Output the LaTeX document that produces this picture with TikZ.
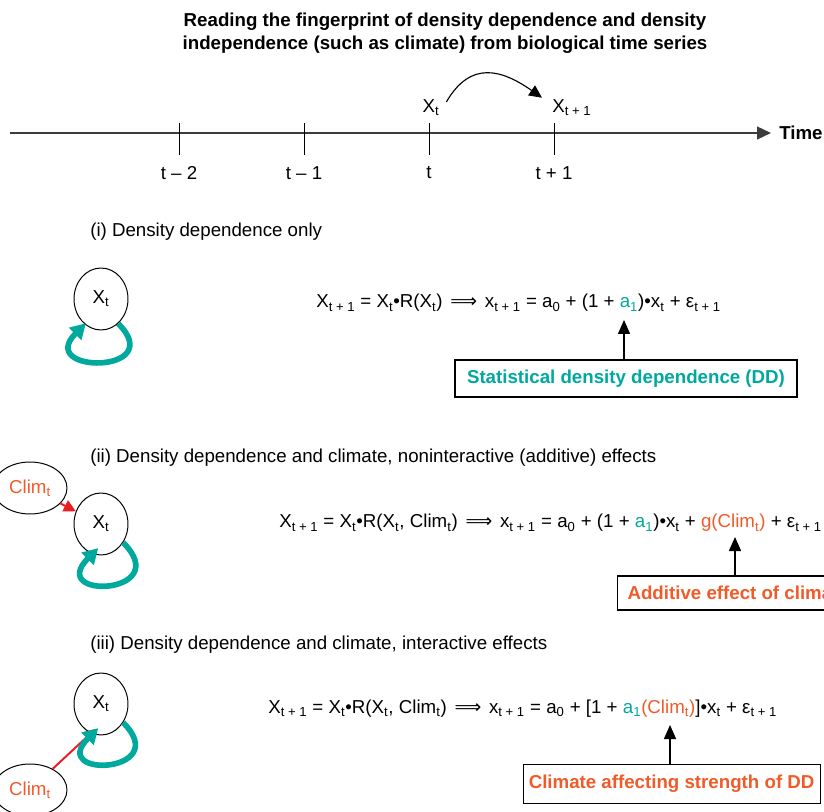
\documentclass[tikz,border=0pt]{standalone}
\usepackage{fontspec}
\setmainfont{Liberation Sans}
\newfontfamily\arrowfont{DejaVu Sans}
\usepackage{tikz}
\usepackage{xcolor}
\usetikzlibrary{shapes,arrows,arrows.meta,positioning,calc}

\definecolor{ddteal}{RGB}{0,169,157}
\definecolor{climred}{RGB}{241,90,41}
\definecolor{arrred}{RGB}{237,28,36}
\definecolor{axisgray}{RGB}{60,60,60}

\newcommand{\ts}[1]{\textsubscript{#1}}
\newcommand{\implarrow}{\hspace{1.8pt}{\arrowfont ⟹}\hspace{1.8pt}}

\begin{document}
\begin{tikzpicture}[
  font=\fontsize{13.3}{16.4}\selectfont,
  state/.style={ellipse, draw, line width=0.7pt, minimum width=1.35cm, minimum height=1.55cm, inner sep=0pt},
  clim/.style={ellipse, draw, line width=0.7pt, minimum width=1.85cm, minimum height=1.3cm, inner sep=0pt, text=climred},
  ddloop/.style={draw=ddteal, line width=4pt, -{Triangle[length=0.38cm,width=0.42cm]}},
  climarrow/.style={draw=arrred, line width=1.4pt, -{Triangle[length=0.3cm,width=0.3cm]}},
  pointer/.style={line width=1pt, -{Triangle[length=0.35cm,width=0.3cm]}},
  labelbox/.style={draw, line width=0.8pt, font=\fontsize{13.3}{16.4}\selectfont\bfseries},
  eqn/.style={anchor=base west, inner sep=0pt},
  >=latex
]
  \useasboundingbox (0,0) rectangle (20.6,-20.3);

  % Title
  \node[font=\fontsize{13.3}{16.4}\selectfont\bfseries, align=center] (title) at (11.125,-0.84)
    {Reading the fingerprint of density dependence and density\\independence (such as climate) from biological time series};

  % Time axis
  \coordinate (T0) at (0.25,-3.325);
  \coordinate (T1) at (19.275,-3.325);
  \draw[axisgray, line width=1.4pt, -{Triangle[length=0.35cm,width=0.32cm]}] (T0) -- (T1);
  \node[anchor=west, inner sep=0pt, font=\fontsize{13.3}{16.4}\selectfont\bfseries] (time) at (19.475,-3.325) {Time};

  \coordinate (k2) at (4.475,-3.075);
  \coordinate (k1) at (7.6,-3.075);
  \coordinate (k0) at (10.725,-3.075);
  \coordinate (kp) at (13.85,-3.075);
  \draw (k2) -- ++(0,-0.8);
  \draw (k1) -- ++(0,-0.8);
  \draw (k0) -- ++(0,-0.8);
  \draw (kp) -- ++(0,-0.8);
  \node (lk2) at (4.475,-4.325) {t – 2};
  \node (lk1) at (7.6,-4.325) {t – 1};
  \node (lk0) at (10.725,-4.325) {t};
  \node (lkp) at (13.85,-4.325) {t + 1};

  \node (lx) at (10.775,-2.7) {X\ts{t}};
  \node[anchor=west, inner sep=0pt] (lx1) at (13.8,-2.7) {X\ts{t + 1}};
  \draw[line width=0.8pt, -{Triangle[length=0.32cm,width=0.3cm]}] ([xshift=0.05cm,yshift=0.15cm]lx.east) to[out=60, in=145, looseness=1.3] ([xshift=-0.25cm,yshift=0.05cm]lx1.north west);

  % (i)
  \node[anchor=west, inner sep=0pt] (h1) at (2.25,-5.8) {(i) Density dependence only};
  \node[state] (X1) at (2.525,-7.475) {X\ts{t}};
  \draw[ddloop] (X1.-55) to[out=-45, in=-135, distance=1.8cm] ([yshift=0.05cm]X1.-120);

  \node[eqn] (eq1) at (7.9,-7.7) {X\ts{t + 1} = X\ts{t}•R(X\ts{t}) \implarrow{} x\ts{t + 1} = a\ts{0} + (1 + {\color{ddteal}a\ts{1}})•x\ts{t} + ε\ts{t + 1}};
  \node[labelbox, text=ddteal, minimum width=8.55cm, minimum height=0.925cm] (dd) at (15.65,-9.4625) {Statistical density dependence (DD)};
  \coordinate (a1) at (15.6,-8.0);
  \draw[pointer] (dd.north -| a1) -- (a1);

  % (ii)
  \node[anchor=west, inner sep=0pt] (h2) at (2.25,-11.45) {(ii) Density dependence and climate, noninteractive (additive) effects};
  \node[state] (X2) at (2.525,-13.1) {X\ts{t}};
  \node[clim] (C2) at (0.75,-12.2) {Clim\ts{t}};
  \draw[climarrow] (C2) -- (X2);
  \draw[ddloop] (X2.-40) to[out=-45, in=-135, distance=1.85cm] ([yshift=0.18cm]X2.-95);

  \node[eqn] (eq2) at (6.975,-13.2) {X\ts{t + 1} = X\ts{t}•R(X\ts{t}, Clim\ts{t}) \implarrow{} x\ts{t + 1} = a\ts{0} + (1 + {\color{ddteal}a\ts{1}})•x\ts{t} + {\color{climred}g(Clim\ts{t})} + ε\ts{t + 1}};
  \node[labelbox, text=climred, anchor=west, minimum height=0.85cm, inner xsep=0.25cm] (add) at (15.425,-14.825) {Additive effect of climate};
  \coordinate (g1) at (18.375,-13.425);
  \draw[pointer] (add.north -| g1) -- (g1);

  % (iii)
  \node[anchor=west, inner sep=0pt] (h3) at (2.25,-16.125) {(iii) Density dependence and climate, interactive effects};
  \node[state] (X3) at (2.525,-17.6) {X\ts{t}};
  \node[clim] (C3) at (0.75,-19.75) {Clim\ts{t}};
  \draw[climarrow] (C3) -- ([yshift=0.15cm]X3.-100);
  \draw[ddloop] (X3.-40) to[out=-45, in=-135, distance=1.8cm] ([yshift=0.18cm]X3.-95);

  \node[eqn] (eq3) at (6.7,-17.825) {X\ts{t + 1} = X\ts{t}•R(X\ts{t}, Clim\ts{t}) \implarrow{} x\ts{t + 1} = a\ts{0} + [1 + {\color{ddteal}a\ts{1}}{\color{climred}(Clim\ts{t})}]•x\ts{t} + ε\ts{t + 1}};
  \node[labelbox, text=climred, minimum width=7.425cm, minimum height=0.975cm] (str) at (16.79,-19.59) {Climate affecting strength of DD};
  \coordinate (c1) at (16.75,-18.125);
  \draw[pointer] (str.north -| c1) -- (c1);

\end{tikzpicture}
\end{document}
